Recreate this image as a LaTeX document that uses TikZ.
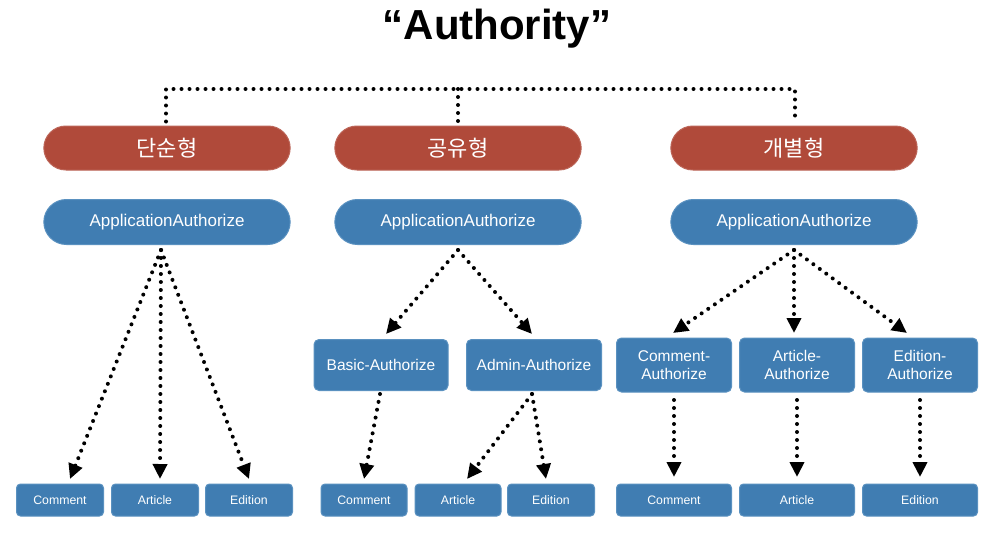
\documentclass[tikz,border=0pt]{standalone}
\usepackage{fontspec}
\setmainfont{Liberation Sans}
\newfontfamily\kofont{Noto Sans CJK KR}
\usetikzlibrary{arrows.meta,shapes.misc}
\definecolor{pillred}{RGB}{176,74,58}
\definecolor{boxblue}{RGB}{64,125,178}
\definecolor{boxedge}{RGB}{90,145,192}
\tikzset{
  redpill/.style={rounded rectangle,fill=pillred,draw=pillred!85!white,line width=1pt,minimum width=253pt,minimum height=44pt,text=white,font=\kofont\fontsize{22}{24}\selectfont},
  bluepill/.style={rounded rectangle,fill=boxblue,draw=boxedge,line width=1pt,minimum width=253pt,minimum height=45pt,text=white,font=\fontsize{17}{19}\selectfont},
  midbox/.style={rectangle,rounded corners=5pt,fill=boxblue,draw=boxedge,line width=1pt,minimum height=51pt,text=white,align=center,font=\fontsize{15.5}{18}\selectfont},
  leafbox/.style={rectangle,rounded corners=4pt,fill=boxblue,draw=boxedge,line width=1pt,minimum height=32pt,text=white,font=\fontsize{12.3}{14}\selectfont},
  dotline/.style={line width=4pt,dash pattern=on 0pt off 8pt,line cap=round},
  dotarrow/.style={dotline,-{Triangle[length=15pt,width=14pt,line cap=butt]}},
}
\begin{document}
\begin{tikzpicture}[x=1pt,y=-1pt]
\useasboundingbox (0,0) rectangle (1000,543);
\fill[white] (0,0) rectangle (1000,543);
\node[font=\bfseries\fontsize{42}{46}\selectfont] (title) at (497,29) {“Authority”};
% level 1
\node[redpill] (r1) at (167,148) {단순형};
\node[redpill] (r2) at (458,148) {공유형};
\node[redpill] (r3) at (794,148) {개별형};
% level 2
\node[bluepill] (a1) at (167,222) {ApplicationAuthorize};
\node[bluepill] (a2) at (458,222) {ApplicationAuthorize};
\node[bluepill] (a3) at (794,222) {ApplicationAuthorize};
% level 3
\node[midbox,minimum width=134pt] (basic) at (381,365) {Basic-Authorize};
\node[midbox,minimum width=135pt] (admin) at (534,365) {Admin-Authorize};
\node[midbox,minimum width=115pt,minimum height=54pt] (ca) at (674,365) {Comment-\\Authorize};
\node[midbox,minimum width=115pt,minimum height=54pt] (aa) at (797,365) {Article-\\Authorize};
\node[midbox,minimum width=115pt,minimum height=54pt] (ea) at (920,365) {Edition-\\Authorize};
% leaves
\node[leafbox,minimum width=87pt] (c1) at (60,500) {Comment};
\node[leafbox,minimum width=87pt] (t1) at (155,500) {Article};
\node[leafbox,minimum width=87pt] (e1) at (249,500) {Edition};
\node[leafbox,minimum width=86pt] (c2) at (364,500) {Comment};
\node[leafbox,minimum width=86pt] (t2) at (458,500) {Article};
\node[leafbox,minimum width=87pt] (e2) at (551,500) {Edition};
\node[leafbox,minimum width=115pt] (c3) at (674,500) {Comment};
\node[leafbox,minimum width=115pt] (t3) at (797,500) {Article};
\node[leafbox,minimum width=115pt] (e3) at (920,500) {Edition};
% top connector
\coordinate (tl) at (166,89);
\coordinate (tm) at (458,89);
\coordinate (tr) at (795,89);
\draw[dotline] (r1.north -| tl) ++(0,-4) -- (tl) -- (tr) -- ++(0,34);
\draw[dotline] (tm) -- ++(0,34);
% left group
\coordinate (s1) at (161,250);
\draw[dotarrow] (s1) -- (70,479);
\draw[dotarrow] (s1) -- (160,479);
\draw[dotarrow] (s1) -- (249,479);
% middle group
\coordinate (s2) at (458,250);
\draw[dotarrow] (s2) -- (386,334);
\draw[dotarrow] (s2) -- (532,334);
\draw[dotarrow] (380,394) -- (364,479);
\draw[dotarrow] (532,394) -- (467,479);
\draw[dotarrow] (532,394) -- (546,479);
% right group
\coordinate (s3) at (794,250);
\draw[dotarrow] (s3) -- (673,333);
\draw[dotarrow] (s3) -- (794,333);
\draw[dotarrow] (s3) -- (907,333);
\draw[dotarrow] (674,400) -- (674,477);
\draw[dotarrow] (797,400) -- (797,477);
\draw[dotarrow] (920,400) -- (920,477);
\end{tikzpicture}
\end{document}
